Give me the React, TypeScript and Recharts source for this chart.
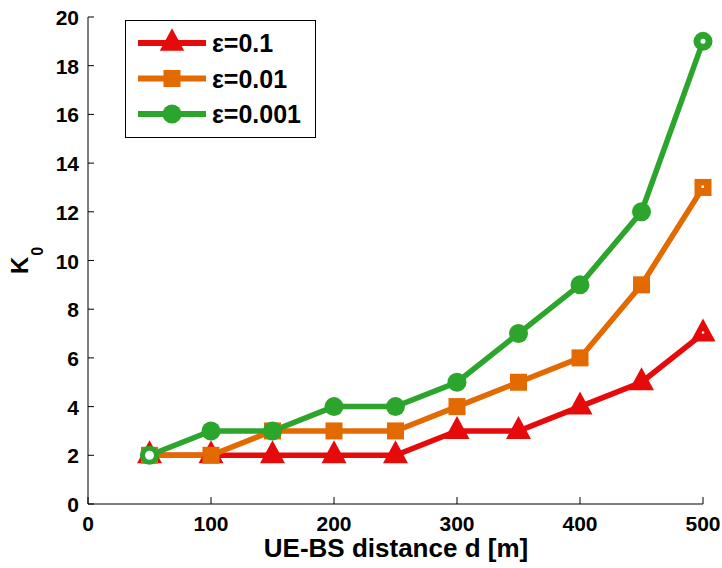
import React from "react";
import { LineChart, Line, XAxis, YAxis, Legend } from "recharts";

const distances = [50, 100, 150, 200, 250, 300, 350, 400, 450, 500];
const kEps1 = [2, 2, 2, 2, 2, 3, 3, 4, 5, 7];
const kEps01 = [2, 2, 3, 3, 3, 4, 5, 6, 9, 13];
const kEps001 = [2, 3, 3, 4, 4, 5, 7, 9, 12, 19];
const xTicks = [0, 100, 200, 300, 400, 500];
const yTicks = [0, 2, 4, 6, 8, 10, 12, 14, 16, 18, 20];
const seriesNames = ["ε=0.1", "ε=0.01", "ε=0.001"];

const RED = "#E60A0A";
const ORANGE = "#E36A00";
const GREEN = "#2CA52C";
const FONT = "'Liberation Sans', Arial, Helvetica, sans-serif";

const data = distances.map((d, i) => ({
  d,
  e1: kEps1[i],
  e01: kEps01[i],
  e001: kEps001[i],
}));

const last = distances.length - 1;

const Tri = ({ cx, cy, color, s = 1 }: any) => (
  <polygon
    points={`${cx},${cy - 15 * s} ${cx - 12.5 * s},${cy + 8 * s} ${cx + 12.5 * s},${cy + 8 * s}`}
    fill={color}
  />
);
const Sq = ({ cx, cy, color }: any) => (
  <rect x={cx - 8.5} y={cy - 8.5} width={17} height={17} fill={color} />
);
const Circ = ({ cx, cy, color }: any) => <circle cx={cx} cy={cy} r={9.5} fill={color} />;

const triDot = (p: any) => (
  <g key={`t${p.index}`}>
    <Tri cx={p.cx} cy={p.cy} color={RED} />
    {p.index === last && <circle cx={p.cx} cy={p.cy - 1} r={1.3} fill="#fff" />}
  </g>
);
const sqDot = (p: any) => (
  <g key={`s${p.index}`}>
    <Sq cx={p.cx} cy={p.cy} color={ORANGE} />
    {p.index === last && <rect x={p.cx - 1.5} y={p.cy - 2} width={2.5} height={2.5} fill="#fff" />}
  </g>
);
const circDot = (p: any) => (
  <g key={`c${p.index}`}>
    <Circ cx={p.cx} cy={p.cy} color={GREEN} />
    {p.index === 0 && <circle cx={p.cx} cy={p.cy} r={4.5} fill="#fff" />}
    {p.index === last && <circle cx={p.cx} cy={p.cy} r={2.5} fill="#fff" />}
  </g>
);

const XTick = ({ x, y, payload }: any) => (
  <g>
    <line x1={x} y1={y} x2={x} y2={y - 7} stroke="#000" strokeWidth={1} />
    <text
      x={x}
      y={y + 27}
      textAnchor="middle"
      fontFamily={FONT}
      fontWeight="bold"
      fontSize={21}
      fill="#000"
    >
      {payload.value}
    </text>
  </g>
);

const YTick = ({ x, y, payload }: any) => (
  <g>
    <line x1={x} y1={y} x2={x + 6} y2={y} stroke="#000" strokeWidth={1} />
    <text
      x={x - 9}
      y={y + 8}
      textAnchor="end"
      fontFamily={FONT}
      fontWeight="bold"
      fontSize={21}
      fill="#000"
    >
      {payload.value}
    </text>
  </g>
);

const legendMarkers = [
  (cx: number, cy: number) => <Tri cx={cx} cy={cy} color={RED} s={0.98} />,
  (cx: number, cy: number) => <Sq cx={cx} cy={cy} color={ORANGE} />,
  (cx: number, cy: number) => <Circ cx={cx} cy={cy} color={GREEN} />,
];
const legendColors = [RED, ORANGE, GREEN];

const LegendBox = () => (
  <svg width={191} height={118} style={{ display: "block" }}>
    <rect x={0.5} y={0.5} width={190} height={117} fill="#fff" stroke="#000" strokeWidth={1} />
    {seriesNames.map((name, i) => {
      const cy = 23 + i * 35.5;
      return (
        <g key={name}>
          <line x1={13} y1={cy} x2={81} y2={cy} stroke={legendColors[i]} strokeWidth={6} />
          {legendMarkers[i](47, cy)}
          <text
            x={87}
            y={cy + 9}
            fontFamily={FONT}
            fontWeight="bold"
            fontSize={25}
            fill="#000"
          >
            {name}
          </text>
        </g>
      );
    })}
  </svg>
);

export default function App() {
  return (
    <div style={{ position: "absolute", left: 0, top: 0, width: 722, height: 568, background: "#fff" }}>
      <LineChart
        width={722}
        height={568}
        data={data}
        margin={{ top: 17, right: 19, bottom: 0, left: 0 }}
      >
        <XAxis
          dataKey="d"
          type="number"
          domain={[0, 500]}
          ticks={xTicks}
          tickLine={false}
          tickSize={0}
          tickMargin={0}
          height={64}
          stroke="#000"
          tick={<XTick />}
          interval={0}
          label={{
            content: () => (
              <text
                x={396}
                y={557}
                textAnchor="middle"
                fontFamily={FONT}
                fontWeight="bold"
                fontSize={26}
                fill="#000"
              >
                UE-BS distance d [m]
              </text>
            ),
          }}
        />
        <YAxis
          type="number"
          domain={[0, 20]}
          ticks={yTicks}
          tickLine={false}
          tickSize={0}
          tickMargin={0}
          width={88}
          stroke="#000"
          tick={<YTick />}
          interval={0}
          label={{
            content: () => (
              <text
                transform="translate(28,274) rotate(-90)"
                fontFamily={FONT}
                fontWeight="bold"
                fontSize={24}
                fill="#000"
                textAnchor="start"
              >
                K
                <tspan fontSize={16} dy={15} dx={1}>0</tspan>
              </text>
            ),
          }}
        />
        <Legend
          layout="horizontal"
          verticalAlign="middle"
          align="center"
          content={() => <LegendBox />}
          wrapperStyle={{ position: "absolute", left: 125, top: 20, width: 191, height: 118 }}
        />
        <Line
          dataKey="e1"
          name={seriesNames[0]}
          stroke={RED}
          strokeWidth={5.5}
          dot={triDot}
          activeDot={false}
          isAnimationActive={false}
        />
        <Line
          dataKey="e01"
          name={seriesNames[1]}
          stroke={ORANGE}
          strokeWidth={5.5}
          dot={sqDot}
          activeDot={false}
          isAnimationActive={false}
        />
        <Line
          dataKey="e001"
          name={seriesNames[2]}
          stroke={GREEN}
          strokeWidth={5.5}
          dot={circDot}
          activeDot={false}
          isAnimationActive={false}
        />
      </LineChart>
    </div>
  );
}
